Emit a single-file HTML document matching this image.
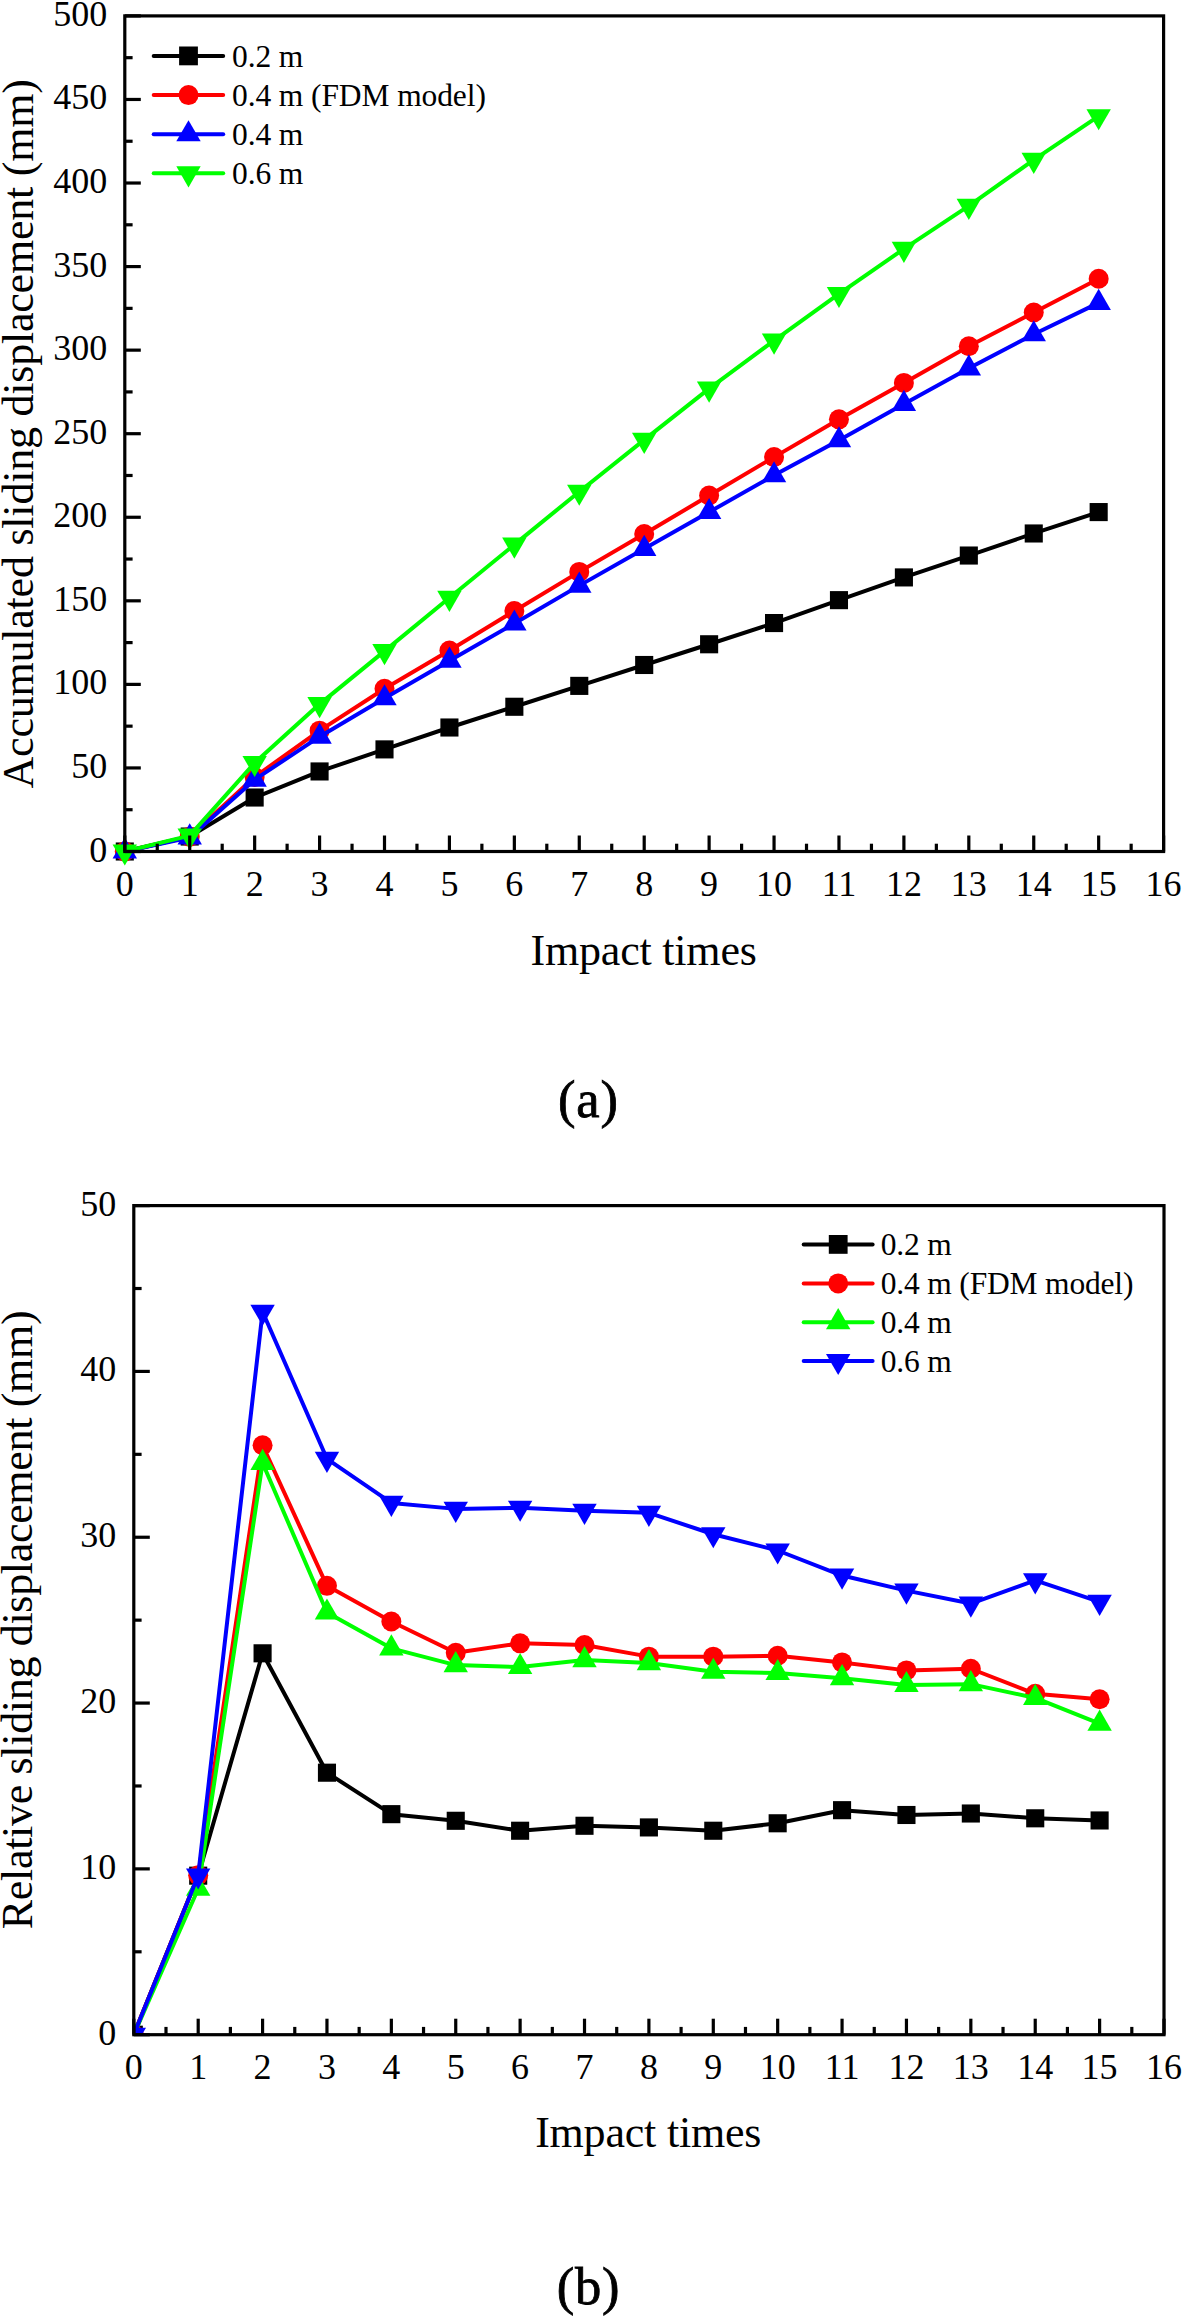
<!DOCTYPE html>
<html><head><meta charset="utf-8"><title>Sliding displacement charts</title>
<style>html,body{margin:0;padding:0;background:#fff;}body{width:1182px;height:2316px;overflow:hidden;font-family:"Liberation Serif",serif;}svg{display:block;}</style>
</head><body>
<svg width="1182" height="2316" viewBox="0 0 1182 2316" font-family='"Liberation Serif", serif'>
<defs><clipPath id="cb"><rect x="133.8" y="1205.6" width="1030.2" height="829.1"/></clipPath></defs>
<rect width="1182" height="2316" fill="#fff"/>
<polyline points="124.8,851.5 189.72,836.54 254.65,797.52 319.57,771.45 384.5,749.39 449.43,727.5 514.35,706.77 579.27,685.88 644.2,664.99 709.12,644.27 774.05,623.05 838.97,600.15 903.9,577.42 968.82,555.53 1033.75,533.47 1098.67,512.08" fill="none" stroke="#000000" stroke-width="4" stroke-linejoin="round" stroke-linecap="round"/>
<rect x="115.75" y="842.45" width="18.1" height="18.1" fill="#000000"/>
<rect x="180.67" y="827.49" width="18.1" height="18.1" fill="#000000"/>
<rect x="245.6" y="788.47" width="18.1" height="18.1" fill="#000000"/>
<rect x="310.52" y="762.4" width="18.1" height="18.1" fill="#000000"/>
<rect x="375.45" y="740.34" width="18.1" height="18.1" fill="#000000"/>
<rect x="440.38" y="718.45" width="18.1" height="18.1" fill="#000000"/>
<rect x="505.3" y="697.72" width="18.1" height="18.1" fill="#000000"/>
<rect x="570.23" y="676.83" width="18.1" height="18.1" fill="#000000"/>
<rect x="635.15" y="655.94" width="18.1" height="18.1" fill="#000000"/>
<rect x="700.07" y="635.22" width="18.1" height="18.1" fill="#000000"/>
<rect x="765" y="614" width="18.1" height="18.1" fill="#000000"/>
<rect x="829.92" y="591.1" width="18.1" height="18.1" fill="#000000"/>
<rect x="894.85" y="568.37" width="18.1" height="18.1" fill="#000000"/>
<rect x="959.77" y="546.48" width="18.1" height="18.1" fill="#000000"/>
<rect x="1024.7" y="524.42" width="18.1" height="18.1" fill="#000000"/>
<rect x="1089.62" y="503.03" width="18.1" height="18.1" fill="#000000"/>
<polyline points="124.8,851.5 189.72,836.63 254.65,776.96 319.57,730.67 384.5,688.73 449.43,650.45 514.35,611.01 579.27,571.91 644.2,533.97 709.12,495.53 774.05,457.1 838.97,419.33 903.9,382.9 968.82,346.3 1033.75,312.54 1098.67,278.78" fill="none" stroke="#ff0000" stroke-width="4" stroke-linejoin="round" stroke-linecap="round"/>
<circle cx="124.8" cy="851.5" r="10" fill="#ff0000"/>
<circle cx="189.72" cy="836.63" r="10" fill="#ff0000"/>
<circle cx="254.65" cy="776.96" r="10" fill="#ff0000"/>
<circle cx="319.57" cy="730.67" r="10" fill="#ff0000"/>
<circle cx="384.5" cy="688.73" r="10" fill="#ff0000"/>
<circle cx="449.43" cy="650.45" r="10" fill="#ff0000"/>
<circle cx="514.35" cy="611.01" r="10" fill="#ff0000"/>
<circle cx="579.27" cy="571.91" r="10" fill="#ff0000"/>
<circle cx="644.2" cy="533.97" r="10" fill="#ff0000"/>
<circle cx="709.12" cy="495.53" r="10" fill="#ff0000"/>
<circle cx="774.05" cy="457.1" r="10" fill="#ff0000"/>
<circle cx="838.97" cy="419.33" r="10" fill="#ff0000"/>
<circle cx="903.9" cy="382.9" r="10" fill="#ff0000"/>
<circle cx="968.82" cy="346.3" r="10" fill="#ff0000"/>
<circle cx="1033.75" cy="312.54" r="10" fill="#ff0000"/>
<circle cx="1098.67" cy="278.78" r="10" fill="#ff0000"/>
<polyline points="124.8,851.5 189.72,837.46 254.65,779.64 319.57,736.69 384.5,698.25 449.43,660.65 514.35,623.55 579.27,585.61 644.2,548.85 709.12,512.08 774.05,475.31 838.97,440.22 903.9,403.95 968.82,368.36 1033.75,334.26 1098.67,302.85" fill="none" stroke="#0000ff" stroke-width="4" stroke-linejoin="round" stroke-linecap="round"/>
<polygon points="124.8,837.41 137,858.54 112.6,858.54" fill="#0000ff"/>
<polygon points="189.72,823.37 201.92,844.51 177.53,844.51" fill="#0000ff"/>
<polygon points="254.65,765.55 266.85,786.68 242.45,786.68" fill="#0000ff"/>
<polygon points="319.57,722.6 331.77,743.73 307.38,743.73" fill="#0000ff"/>
<polygon points="384.5,684.16 396.7,705.29 372.3,705.29" fill="#0000ff"/>
<polygon points="449.43,646.56 461.62,667.69 437.23,667.69" fill="#0000ff"/>
<polygon points="514.35,609.46 526.55,630.59 502.15,630.59" fill="#0000ff"/>
<polygon points="579.27,571.52 591.48,592.66 567.07,592.66" fill="#0000ff"/>
<polygon points="644.2,534.76 656.4,555.89 632,555.89" fill="#0000ff"/>
<polygon points="709.12,497.99 721.32,519.12 696.92,519.12" fill="#0000ff"/>
<polygon points="774.05,461.23 786.25,482.36 761.85,482.36" fill="#0000ff"/>
<polygon points="838.97,426.13 851.17,447.26 826.77,447.26" fill="#0000ff"/>
<polygon points="903.9,389.87 916.1,411 891.7,411" fill="#0000ff"/>
<polygon points="968.82,354.27 981.02,375.4 956.62,375.4" fill="#0000ff"/>
<polygon points="1033.75,320.18 1045.95,341.31 1021.55,341.31" fill="#0000ff"/>
<polygon points="1098.67,288.76 1110.88,309.89 1086.47,309.89" fill="#0000ff"/>
<polyline points="124.8,851.5 189.72,835.62 254.65,762.93 319.57,704.1 384.5,651.12 449.43,597.81 514.35,544.67 579.27,491.69 644.2,439.88 709.12,388.58 774.05,340.61 838.97,293.99 903.9,248.87 968.82,205.92 1033.75,159.87 1098.67,116.17" fill="none" stroke="#00ff00" stroke-width="4" stroke-linejoin="round" stroke-linecap="round"/>
<polygon points="112.6,844.46 137,844.46 124.8,865.59" fill="#00ff00"/>
<polygon points="177.53,828.58 201.92,828.58 189.72,849.71" fill="#00ff00"/>
<polygon points="242.45,755.88 266.85,755.88 254.65,777.01" fill="#00ff00"/>
<polygon points="307.38,697.06 331.77,697.06 319.57,718.19" fill="#00ff00"/>
<polygon points="372.3,644.08 396.7,644.08 384.5,665.21" fill="#00ff00"/>
<polygon points="437.23,590.77 461.62,590.77 449.43,611.9" fill="#00ff00"/>
<polygon points="502.15,537.62 526.55,537.62 514.35,558.76" fill="#00ff00"/>
<polygon points="567.07,484.65 591.48,484.65 579.27,505.78" fill="#00ff00"/>
<polygon points="632,432.84 656.4,432.84 644.2,453.97" fill="#00ff00"/>
<polygon points="696.92,381.53 721.32,381.53 709.12,402.66" fill="#00ff00"/>
<polygon points="761.85,333.57 786.25,333.57 774.05,354.7" fill="#00ff00"/>
<polygon points="826.77,286.94 851.17,286.94 838.97,308.08" fill="#00ff00"/>
<polygon points="891.7,241.82 916.1,241.82 903.9,262.95" fill="#00ff00"/>
<polygon points="956.62,198.87 981.02,198.87 968.82,220" fill="#00ff00"/>
<polygon points="1021.55,152.83 1045.95,152.83 1033.75,173.96" fill="#00ff00"/>
<polygon points="1086.47,109.13 1110.88,109.13 1098.67,130.26" fill="#00ff00"/>
<g stroke="#000" stroke-width="3.2" fill="none"><line x1="124.8" y1="851.5" x2="124.8" y2="835.5"/><line x1="157.26" y1="851.5" x2="157.26" y2="843.7"/><line x1="189.72" y1="851.5" x2="189.72" y2="835.5"/><line x1="222.19" y1="851.5" x2="222.19" y2="843.7"/><line x1="254.65" y1="851.5" x2="254.65" y2="835.5"/><line x1="287.11" y1="851.5" x2="287.11" y2="843.7"/><line x1="319.57" y1="851.5" x2="319.57" y2="835.5"/><line x1="352.04" y1="851.5" x2="352.04" y2="843.7"/><line x1="384.5" y1="851.5" x2="384.5" y2="835.5"/><line x1="416.96" y1="851.5" x2="416.96" y2="843.7"/><line x1="449.43" y1="851.5" x2="449.43" y2="835.5"/><line x1="481.89" y1="851.5" x2="481.89" y2="843.7"/><line x1="514.35" y1="851.5" x2="514.35" y2="835.5"/><line x1="546.81" y1="851.5" x2="546.81" y2="843.7"/><line x1="579.27" y1="851.5" x2="579.27" y2="835.5"/><line x1="611.74" y1="851.5" x2="611.74" y2="843.7"/><line x1="644.2" y1="851.5" x2="644.2" y2="835.5"/><line x1="676.66" y1="851.5" x2="676.66" y2="843.7"/><line x1="709.12" y1="851.5" x2="709.12" y2="835.5"/><line x1="741.59" y1="851.5" x2="741.59" y2="843.7"/><line x1="774.05" y1="851.5" x2="774.05" y2="835.5"/><line x1="806.51" y1="851.5" x2="806.51" y2="843.7"/><line x1="838.97" y1="851.5" x2="838.97" y2="835.5"/><line x1="871.44" y1="851.5" x2="871.44" y2="843.7"/><line x1="903.9" y1="851.5" x2="903.9" y2="835.5"/><line x1="936.36" y1="851.5" x2="936.36" y2="843.7"/><line x1="968.82" y1="851.5" x2="968.82" y2="835.5"/><line x1="1001.29" y1="851.5" x2="1001.29" y2="843.7"/><line x1="1033.75" y1="851.5" x2="1033.75" y2="835.5"/><line x1="1066.21" y1="851.5" x2="1066.21" y2="843.7"/><line x1="1098.67" y1="851.5" x2="1098.67" y2="835.5"/><line x1="1131.14" y1="851.5" x2="1131.14" y2="843.7"/><line x1="1163.6" y1="851.5" x2="1163.6" y2="835.5"/><line x1="124.8" y1="851.5" x2="140.8" y2="851.5"/><line x1="124.8" y1="809.72" x2="132.6" y2="809.72"/><line x1="124.8" y1="767.94" x2="140.8" y2="767.94"/><line x1="124.8" y1="726.16" x2="132.6" y2="726.16"/><line x1="124.8" y1="684.38" x2="140.8" y2="684.38"/><line x1="124.8" y1="642.6" x2="132.6" y2="642.6"/><line x1="124.8" y1="600.82" x2="140.8" y2="600.82"/><line x1="124.8" y1="559.04" x2="132.6" y2="559.04"/><line x1="124.8" y1="517.26" x2="140.8" y2="517.26"/><line x1="124.8" y1="475.48" x2="132.6" y2="475.48"/><line x1="124.8" y1="433.7" x2="140.8" y2="433.7"/><line x1="124.8" y1="391.92" x2="132.6" y2="391.92"/><line x1="124.8" y1="350.14" x2="140.8" y2="350.14"/><line x1="124.8" y1="308.36" x2="132.6" y2="308.36"/><line x1="124.8" y1="266.58" x2="140.8" y2="266.58"/><line x1="124.8" y1="224.8" x2="132.6" y2="224.8"/><line x1="124.8" y1="183.02" x2="140.8" y2="183.02"/><line x1="124.8" y1="141.24" x2="132.6" y2="141.24"/><line x1="124.8" y1="99.46" x2="140.8" y2="99.46"/><line x1="124.8" y1="57.68" x2="132.6" y2="57.68"/><line x1="124.8" y1="15.9" x2="140.8" y2="15.9"/></g>
<rect x="124.8" y="15.9" width="1038.8" height="835.6" fill="none" stroke="#000" stroke-width="3.2"/>
<g font-size="36" fill="#000"><text x="124.8" y="895.8" text-anchor="middle">0</text><text x="189.72" y="895.8" text-anchor="middle">1</text><text x="254.65" y="895.8" text-anchor="middle">2</text><text x="319.57" y="895.8" text-anchor="middle">3</text><text x="384.5" y="895.8" text-anchor="middle">4</text><text x="449.43" y="895.8" text-anchor="middle">5</text><text x="514.35" y="895.8" text-anchor="middle">6</text><text x="579.27" y="895.8" text-anchor="middle">7</text><text x="644.2" y="895.8" text-anchor="middle">8</text><text x="709.12" y="895.8" text-anchor="middle">9</text><text x="774.05" y="895.8" text-anchor="middle">10</text><text x="838.97" y="895.8" text-anchor="middle">11</text><text x="903.9" y="895.8" text-anchor="middle">12</text><text x="968.82" y="895.8" text-anchor="middle">13</text><text x="1033.75" y="895.8" text-anchor="middle">14</text><text x="1098.67" y="895.8" text-anchor="middle">15</text><text x="1163.6" y="895.8" text-anchor="middle">16</text><text x="107.3" y="861.5" text-anchor="end">0</text><text x="107.3" y="777.94" text-anchor="end">50</text><text x="107.3" y="694.38" text-anchor="end">100</text><text x="107.3" y="610.82" text-anchor="end">150</text><text x="107.3" y="527.26" text-anchor="end">200</text><text x="107.3" y="443.7" text-anchor="end">250</text><text x="107.3" y="360.14" text-anchor="end">300</text><text x="107.3" y="276.58" text-anchor="end">350</text><text x="107.3" y="193.02" text-anchor="end">400</text><text x="107.3" y="109.46" text-anchor="end">450</text><text x="107.3" y="25.9" text-anchor="end">500</text></g>
<line x1="153.7" y1="55.9" x2="223.2" y2="55.9" stroke="#000000" stroke-width="4" stroke-linecap="round"/>
<rect x="179.1" y="46.5" width="18.8" height="18.8" fill="#000000"/>
<text x="232" y="66.5" font-size="31.5" letter-spacing="-0.1">0.2 m</text>
<line x1="153.7" y1="95.1" x2="223.2" y2="95.1" stroke="#ff0000" stroke-width="4" stroke-linecap="round"/>
<circle cx="188.5" cy="95.1" r="10" fill="#ff0000"/>
<text x="232" y="105.7" font-size="31.5" letter-spacing="-0.1">0.4 m (FDM model)</text>
<line x1="153.7" y1="134.3" x2="223.2" y2="134.3" stroke="#0000ff" stroke-width="4" stroke-linecap="round"/>
<polygon points="188.5,120.21 200.7,141.34 176.3,141.34" fill="#0000ff"/>
<text x="232" y="144.9" font-size="31.5" letter-spacing="-0.1">0.4 m</text>
<line x1="153.7" y1="173.3" x2="223.2" y2="173.3" stroke="#00ff00" stroke-width="4" stroke-linecap="round"/>
<polygon points="176.3,166.26 200.7,166.26 188.5,187.39" fill="#00ff00"/>
<text x="232" y="183.9" font-size="31.5" letter-spacing="-0.1">0.6 m</text>
<text x="643.6" y="965.1" text-anchor="middle" font-size="44" letter-spacing="-0.2">Impact times</text>
<text transform="translate(32.5,433.9) rotate(-90)" text-anchor="middle" font-size="44" letter-spacing="-0.22">Accumulated sliding displacement (mm)</text>
<text x="588.4" y="1116.8" text-anchor="middle" font-size="52.5" stroke="#000" stroke-width="0.8" letter-spacing="0.8">(a)</text>
<g clip-path="url(#cb)">
<polyline points="133.8,2034.7 198.19,1875.68 262.58,1653.31 326.96,1772.7 391.35,1814.16 455.74,1820.79 520.12,1830.74 584.51,1825.77 648.9,1827.42 713.29,1830.74 777.67,1823.28 842.06,1810.18 906.45,1814.99 970.84,1813.5 1035.23,1818.3 1099.61,1820.46" fill="none" stroke="#000000" stroke-width="4" stroke-linejoin="round" stroke-linecap="round"/>
<rect x="124.75" y="2025.65" width="18.1" height="18.1" fill="#000000"/>
<rect x="189.14" y="1866.63" width="18.1" height="18.1" fill="#000000"/>
<rect x="253.53" y="1644.26" width="18.1" height="18.1" fill="#000000"/>
<rect x="317.91" y="1763.65" width="18.1" height="18.1" fill="#000000"/>
<rect x="382.3" y="1805.11" width="18.1" height="18.1" fill="#000000"/>
<rect x="446.69" y="1811.74" width="18.1" height="18.1" fill="#000000"/>
<rect x="511.07" y="1821.69" width="18.1" height="18.1" fill="#000000"/>
<rect x="575.46" y="1816.72" width="18.1" height="18.1" fill="#000000"/>
<rect x="639.85" y="1818.38" width="18.1" height="18.1" fill="#000000"/>
<rect x="704.24" y="1821.69" width="18.1" height="18.1" fill="#000000"/>
<rect x="768.62" y="1814.23" width="18.1" height="18.1" fill="#000000"/>
<rect x="833.01" y="1801.13" width="18.1" height="18.1" fill="#000000"/>
<rect x="897.4" y="1805.94" width="18.1" height="18.1" fill="#000000"/>
<rect x="961.79" y="1804.45" width="18.1" height="18.1" fill="#000000"/>
<rect x="1026.18" y="1809.25" width="18.1" height="18.1" fill="#000000"/>
<rect x="1090.56" y="1811.41" width="18.1" height="18.1" fill="#000000"/>
<polyline points="133.8,2034.7 198.19,1875.18 262.58,1445.21 326.96,1585.83 391.35,1621.48 455.74,1652.82 520.12,1643.36 584.51,1645.02 648.9,1656.63 713.29,1656.63 777.67,1655.8 842.06,1662.43 906.45,1670.39 970.84,1668.74 1035.23,1693.77 1099.61,1699.25" fill="none" stroke="#ff0000" stroke-width="4" stroke-linejoin="round" stroke-linecap="round"/>
<circle cx="133.8" cy="2034.7" r="10" fill="#ff0000"/>
<circle cx="198.19" cy="1875.18" r="10" fill="#ff0000"/>
<circle cx="262.58" cy="1445.21" r="10" fill="#ff0000"/>
<circle cx="326.96" cy="1585.83" r="10" fill="#ff0000"/>
<circle cx="391.35" cy="1621.48" r="10" fill="#ff0000"/>
<circle cx="455.74" cy="1652.82" r="10" fill="#ff0000"/>
<circle cx="520.12" cy="1643.36" r="10" fill="#ff0000"/>
<circle cx="584.51" cy="1645.02" r="10" fill="#ff0000"/>
<circle cx="648.9" cy="1656.63" r="10" fill="#ff0000"/>
<circle cx="713.29" cy="1656.63" r="10" fill="#ff0000"/>
<circle cx="777.67" cy="1655.8" r="10" fill="#ff0000"/>
<circle cx="842.06" cy="1662.43" r="10" fill="#ff0000"/>
<circle cx="906.45" cy="1670.39" r="10" fill="#ff0000"/>
<circle cx="970.84" cy="1668.74" r="10" fill="#ff0000"/>
<circle cx="1035.23" cy="1693.77" r="10" fill="#ff0000"/>
<circle cx="1099.61" cy="1699.25" r="10" fill="#ff0000"/>
<polyline points="133.8,2034.7 198.19,1888.78 262.58,1462.95 326.96,1612.52 391.35,1648.34 455.74,1665.09 520.12,1667.08 584.51,1660.11 648.9,1663.1 713.29,1671.72 777.67,1673.05 842.06,1678.19 906.45,1684.99 970.84,1684.16 1035.23,1697.92 1099.61,1723.62" fill="none" stroke="#00ff00" stroke-width="4" stroke-linejoin="round" stroke-linecap="round"/>
<polygon points="133.8,2020.61 146,2041.74 121.6,2041.74" fill="#00ff00"/>
<polygon points="198.19,1874.69 210.39,1895.82 185.99,1895.82" fill="#00ff00"/>
<polygon points="262.58,1448.87 274.78,1470 250.38,1470" fill="#00ff00"/>
<polygon points="326.96,1598.43 339.16,1619.57 314.76,1619.57" fill="#00ff00"/>
<polygon points="391.35,1634.25 403.55,1655.38 379.15,1655.38" fill="#00ff00"/>
<polygon points="455.74,1651 467.94,1672.13 443.54,1672.13" fill="#00ff00"/>
<polygon points="520.12,1652.99 532.33,1674.12 507.93,1674.12" fill="#00ff00"/>
<polygon points="584.51,1646.03 596.71,1667.16 572.31,1667.16" fill="#00ff00"/>
<polygon points="648.9,1649.01 661.1,1670.14 636.7,1670.14" fill="#00ff00"/>
<polygon points="713.29,1657.63 725.49,1678.76 701.09,1678.76" fill="#00ff00"/>
<polygon points="777.67,1658.96 789.88,1680.09 765.47,1680.09" fill="#00ff00"/>
<polygon points="842.06,1664.1 854.26,1685.23 829.86,1685.23" fill="#00ff00"/>
<polygon points="906.45,1670.9 918.65,1692.03 894.25,1692.03" fill="#00ff00"/>
<polygon points="970.84,1670.07 983.04,1691.2 958.64,1691.2" fill="#00ff00"/>
<polygon points="1035.23,1683.83 1047.43,1704.96 1023.03,1704.96" fill="#00ff00"/>
<polygon points="1099.61,1709.53 1111.81,1730.67 1087.41,1730.67" fill="#00ff00"/>
<polyline points="133.8,2034.7 198.19,1875.51 262.58,1311.72 326.96,1458.81 391.35,1502.92 455.74,1508.88 520.12,1507.72 584.51,1510.87 648.9,1512.86 713.29,1534.26 777.67,1550.51 842.06,1575.54 906.45,1590.63 970.84,1603.57 1035.23,1580.35 1099.61,1601.91" fill="none" stroke="#0000ff" stroke-width="4" stroke-linejoin="round" stroke-linecap="round"/>
<polygon points="121.6,2027.66 146,2027.66 133.8,2048.79" fill="#0000ff"/>
<polygon points="185.99,1868.47 210.39,1868.47 198.19,1889.6" fill="#0000ff"/>
<polygon points="250.38,1304.68 274.78,1304.68 262.58,1325.81" fill="#0000ff"/>
<polygon points="314.76,1451.76 339.16,1451.76 326.96,1472.89" fill="#0000ff"/>
<polygon points="379.15,1495.87 403.55,1495.87 391.35,1517" fill="#0000ff"/>
<polygon points="443.54,1501.84 467.94,1501.84 455.74,1522.97" fill="#0000ff"/>
<polygon points="507.93,1500.68 532.33,1500.68 520.12,1521.81" fill="#0000ff"/>
<polygon points="572.31,1503.83 596.71,1503.83 584.51,1524.96" fill="#0000ff"/>
<polygon points="636.7,1505.82 661.1,1505.82 648.9,1526.95" fill="#0000ff"/>
<polygon points="701.09,1527.21 725.49,1527.21 713.29,1548.34" fill="#0000ff"/>
<polygon points="765.47,1543.46 789.88,1543.46 777.67,1564.59" fill="#0000ff"/>
<polygon points="829.86,1568.5 854.26,1568.5 842.06,1589.63" fill="#0000ff"/>
<polygon points="894.25,1583.59 918.65,1583.59 906.45,1604.72" fill="#0000ff"/>
<polygon points="958.64,1596.52 983.04,1596.52 970.84,1617.66" fill="#0000ff"/>
<polygon points="1023.03,1573.31 1047.43,1573.31 1035.23,1594.44" fill="#0000ff"/>
<polygon points="1087.41,1594.87 1111.81,1594.87 1099.61,1616" fill="#0000ff"/>
</g>
<g stroke="#000" stroke-width="3.2" fill="none"><line x1="133.8" y1="2034.7" x2="133.8" y2="2018.7"/><line x1="165.99" y1="2034.7" x2="165.99" y2="2026.9"/><line x1="198.19" y1="2034.7" x2="198.19" y2="2018.7"/><line x1="230.38" y1="2034.7" x2="230.38" y2="2026.9"/><line x1="262.58" y1="2034.7" x2="262.58" y2="2018.7"/><line x1="294.77" y1="2034.7" x2="294.77" y2="2026.9"/><line x1="326.96" y1="2034.7" x2="326.96" y2="2018.7"/><line x1="359.16" y1="2034.7" x2="359.16" y2="2026.9"/><line x1="391.35" y1="2034.7" x2="391.35" y2="2018.7"/><line x1="423.54" y1="2034.7" x2="423.54" y2="2026.9"/><line x1="455.74" y1="2034.7" x2="455.74" y2="2018.7"/><line x1="487.93" y1="2034.7" x2="487.93" y2="2026.9"/><line x1="520.12" y1="2034.7" x2="520.12" y2="2018.7"/><line x1="552.32" y1="2034.7" x2="552.32" y2="2026.9"/><line x1="584.51" y1="2034.7" x2="584.51" y2="2018.7"/><line x1="616.71" y1="2034.7" x2="616.71" y2="2026.9"/><line x1="648.9" y1="2034.7" x2="648.9" y2="2018.7"/><line x1="681.09" y1="2034.7" x2="681.09" y2="2026.9"/><line x1="713.29" y1="2034.7" x2="713.29" y2="2018.7"/><line x1="745.48" y1="2034.7" x2="745.48" y2="2026.9"/><line x1="777.67" y1="2034.7" x2="777.67" y2="2018.7"/><line x1="809.87" y1="2034.7" x2="809.87" y2="2026.9"/><line x1="842.06" y1="2034.7" x2="842.06" y2="2018.7"/><line x1="874.26" y1="2034.7" x2="874.26" y2="2026.9"/><line x1="906.45" y1="2034.7" x2="906.45" y2="2018.7"/><line x1="938.64" y1="2034.7" x2="938.64" y2="2026.9"/><line x1="970.84" y1="2034.7" x2="970.84" y2="2018.7"/><line x1="1003.03" y1="2034.7" x2="1003.03" y2="2026.9"/><line x1="1035.23" y1="2034.7" x2="1035.23" y2="2018.7"/><line x1="1067.42" y1="2034.7" x2="1067.42" y2="2026.9"/><line x1="1099.61" y1="2034.7" x2="1099.61" y2="2018.7"/><line x1="1131.81" y1="2034.7" x2="1131.81" y2="2026.9"/><line x1="1164" y1="2034.7" x2="1164" y2="2018.7"/><line x1="133.8" y1="2034.7" x2="149.8" y2="2034.7"/><line x1="133.8" y1="1951.79" x2="141.6" y2="1951.79"/><line x1="133.8" y1="1868.88" x2="149.8" y2="1868.88"/><line x1="133.8" y1="1785.97" x2="141.6" y2="1785.97"/><line x1="133.8" y1="1703.06" x2="149.8" y2="1703.06"/><line x1="133.8" y1="1620.15" x2="141.6" y2="1620.15"/><line x1="133.8" y1="1537.24" x2="149.8" y2="1537.24"/><line x1="133.8" y1="1454.33" x2="141.6" y2="1454.33"/><line x1="133.8" y1="1371.42" x2="149.8" y2="1371.42"/><line x1="133.8" y1="1288.51" x2="141.6" y2="1288.51"/><line x1="133.8" y1="1205.6" x2="149.8" y2="1205.6"/></g>
<rect x="133.8" y="1205.6" width="1030.2" height="829.1" fill="none" stroke="#000" stroke-width="3.2"/>
<g font-size="36" fill="#000"><text x="133.8" y="2079" text-anchor="middle">0</text><text x="198.19" y="2079" text-anchor="middle">1</text><text x="262.58" y="2079" text-anchor="middle">2</text><text x="326.96" y="2079" text-anchor="middle">3</text><text x="391.35" y="2079" text-anchor="middle">4</text><text x="455.74" y="2079" text-anchor="middle">5</text><text x="520.12" y="2079" text-anchor="middle">6</text><text x="584.51" y="2079" text-anchor="middle">7</text><text x="648.9" y="2079" text-anchor="middle">8</text><text x="713.29" y="2079" text-anchor="middle">9</text><text x="777.67" y="2079" text-anchor="middle">10</text><text x="842.06" y="2079" text-anchor="middle">11</text><text x="906.45" y="2079" text-anchor="middle">12</text><text x="970.84" y="2079" text-anchor="middle">13</text><text x="1035.23" y="2079" text-anchor="middle">14</text><text x="1099.61" y="2079" text-anchor="middle">15</text><text x="1164" y="2079" text-anchor="middle">16</text><text x="116.3" y="2044.7" text-anchor="end">0</text><text x="116.3" y="1878.88" text-anchor="end">10</text><text x="116.3" y="1713.06" text-anchor="end">20</text><text x="116.3" y="1547.24" text-anchor="end">30</text><text x="116.3" y="1381.42" text-anchor="end">40</text><text x="116.3" y="1215.6" text-anchor="end">50</text></g>
<line x1="803.7" y1="1244.4" x2="872.6" y2="1244.4" stroke="#000000" stroke-width="4" stroke-linecap="round"/>
<rect x="828.8" y="1235" width="18.8" height="18.8" fill="#000000"/>
<text x="880.8" y="1255" font-size="31.5" letter-spacing="-0.18">0.2 m</text>
<line x1="803.7" y1="1283.4" x2="872.6" y2="1283.4" stroke="#ff0000" stroke-width="4" stroke-linecap="round"/>
<circle cx="838.2" cy="1283.4" r="10" fill="#ff0000"/>
<text x="880.8" y="1294" font-size="31.5" letter-spacing="-0.18">0.4 m (FDM model)</text>
<line x1="803.7" y1="1322.2" x2="872.6" y2="1322.2" stroke="#00ff00" stroke-width="4" stroke-linecap="round"/>
<polygon points="838.2,1308.11 850.4,1329.24 826,1329.24" fill="#00ff00"/>
<text x="880.8" y="1332.8" font-size="31.5" letter-spacing="-0.18">0.4 m</text>
<line x1="803.7" y1="1361" x2="872.6" y2="1361" stroke="#0000ff" stroke-width="4" stroke-linecap="round"/>
<polygon points="826,1353.96 850.4,1353.96 838.2,1375.09" fill="#0000ff"/>
<text x="880.8" y="1371.6" font-size="31.5" letter-spacing="-0.18">0.6 m</text>
<text x="648.2" y="2147.3" text-anchor="middle" font-size="44" letter-spacing="-0.2">Impact times</text>
<text transform="translate(31.5,1620) rotate(-90)" text-anchor="middle" font-size="44" letter-spacing="-0.32">Relative sliding displacement (mm)</text>
<text x="588.5" y="2303.7" text-anchor="middle" font-size="52.5" stroke="#000" stroke-width="0.8" letter-spacing="0.8">(b)</text>
</svg>
</body></html>
